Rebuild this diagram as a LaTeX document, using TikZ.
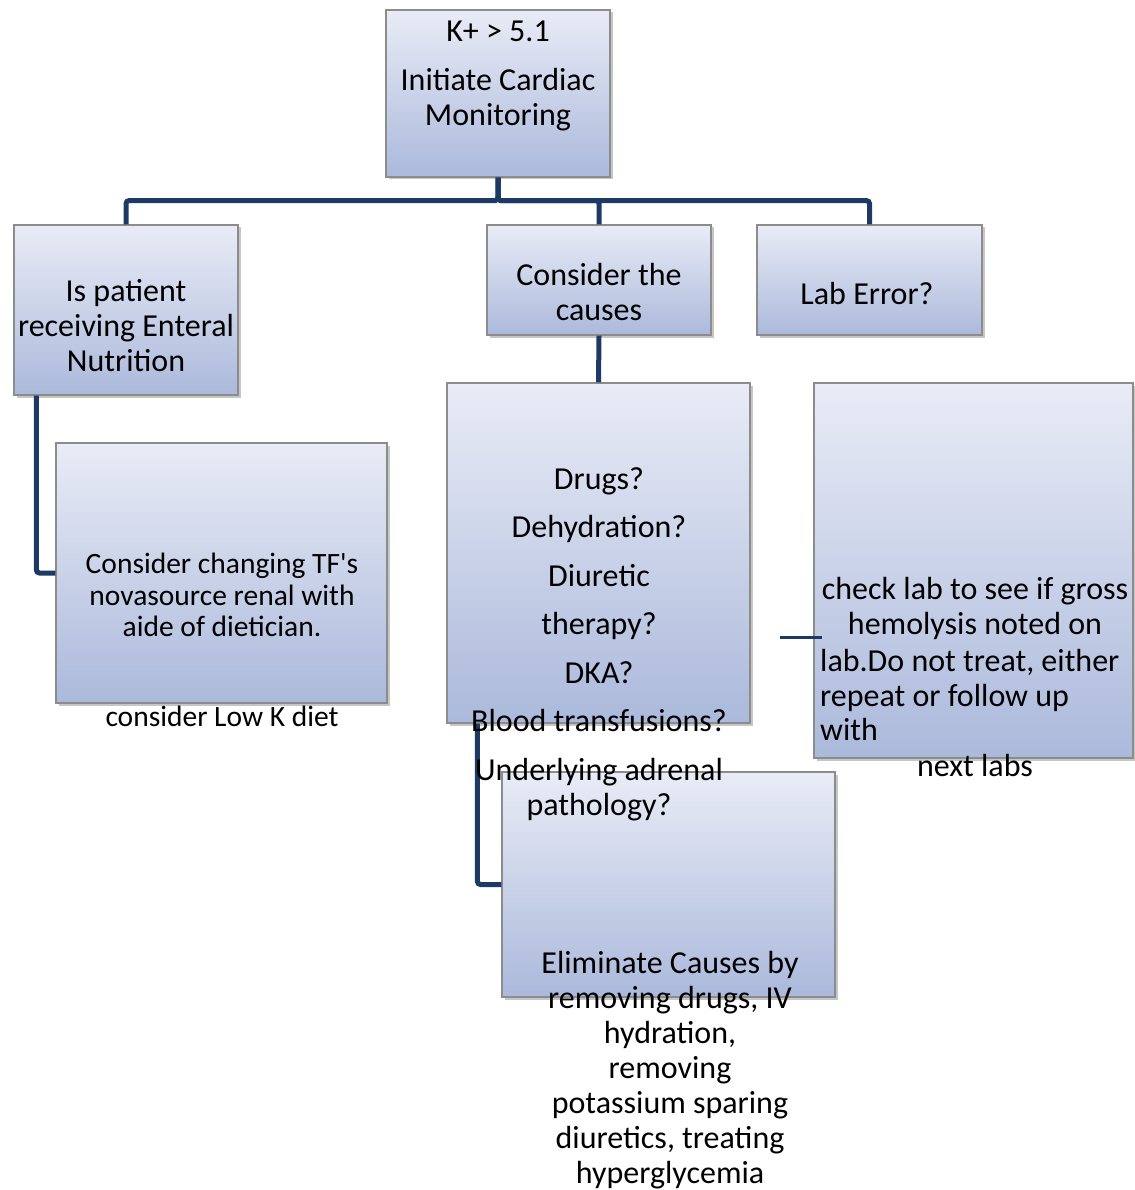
\documentclass[tikz,border=0pt]{standalone}
\usepackage{fontspec}
\setmainfont{Carlito}
\usetikzlibrary{shadows}
\definecolor{conncol}{HTML}{1C3A64}
\definecolor{boxtop}{HTML}{E9ECF6}
\definecolor{boxbot}{HTML}{ABB9DB}
\definecolor{boxline}{HTML}{8C8C8C}
\begin{document}
\begin{tikzpicture}[x=1pt,y=-1pt,
  box/.style={rectangle, draw=boxline, line width=1.2pt, top color=boxtop, bottom color=boxbot, inner sep=0pt,
    drop shadow={shadow xshift=2.5pt, shadow yshift=-2.5pt, opacity=0.45}},
  conn/.style={draw=conncol, line width=5pt, rounded corners=3pt},
  stub/.style={draw=conncol, line width=3pt},
  lbl/.style={align=center, inner sep=0pt, font=\fontsize{32}{35}\selectfont},
  lbll/.style={align=left, inner sep=0pt, font=\fontsize{32}{35}\selectfont},
  lbls/.style={align=center, inner sep=0pt, font=\fontsize{29.5}{31.5}\selectfont}]
\useasboundingbox (0,0) rectangle (1134,1190);
% boxes and connectors
\node[box, minimum width=224pt, minimum height=167pt] (b0) at (498,93.5) {};
\node[box, minimum width=224pt, minimum height=170pt] (b1) at (126,310) {};
\node[box, minimum width=224pt, minimum height=110pt] (b2) at (599,280) {};
\node[box, minimum width=225pt, minimum height=110pt] (b3) at (869.5,280) {};
\draw[conn] (b0.south) -- ++(0,23) -| (b1.north);
\draw[conn] (b0.south) -- ++(0,23) -| (b2.north);
\draw[conn] (b0.south) -- ++(0,23) -| (b3.north);
\node[box, minimum width=331pt, minimum height=260pt] (b4) at (221.5,573) {};
\node[box, minimum width=303pt, minimum height=340pt] (b5) at (598.5,553) {};
\node[box, minimum width=319pt, minimum height=375pt] (b7) at (973.5,570.5) {};
\draw[conn] ([xshift=23pt]b1.south west) |- (b4.west);
\draw[conn] (b2.south) -- (b5.north);
\node[box, minimum width=333pt, minimum height=225pt] (b6) at (668.5,884.5) {};
\draw[conn] ([xshift=31pt]b5.south west) |- (b6.west);
\coordinate (stubA) at (780,637);
\coordinate (stubB) at (822,637);
\draw[stub] (stubA) -- (stubB);
% texts
\node[lbl] (t0) at (498,76) {K+ > 5.1\\[14pt]Initiate Cardiac\\Monitoring};
\node[lbl] (t1) at (126,326) {Is patient\\receiving Enteral\\Nutrition};
\node[lbl] (t2) at (599,292) {Consider the\\causes};
\node[lbl] (t3) at (867,294) {Lab Error?};
\node[lbls] (t4) at (222,595) {Consider changing TF\textquotesingle s\\novasource renal with\\aide of dietician.};
\node[lbls] (t4b) at (222,716) {consider Low K diet};
\node[lbl, font=\fontsize{32}{48.5}\selectfont] (t5) at (599,644) {Drugs?\\Dehydration?\\Diuretic\\therapy?\\DKA?\\Blood transfusions?\\Underlying adrenal\\[-13.5pt]pathology?};
\node[lbl] (t6) at (670,1070) {Eliminate Causes by\\removing drugs, IV\\hydration,\\removing\\potassium sparing\\diuretics, treating\\hyperglycemia};
\node[lbl] (t7) at (975,608.5) {check lab to see if gross\\hemolysis noted on};
\node[lbll, anchor=west] (t7b) at (820,695) {lab.Do not treat, either\\repeat or follow up\\with};
\node[lbl] (t7c) at (975,765) {next labs};
\end{tikzpicture}
\end{document}
